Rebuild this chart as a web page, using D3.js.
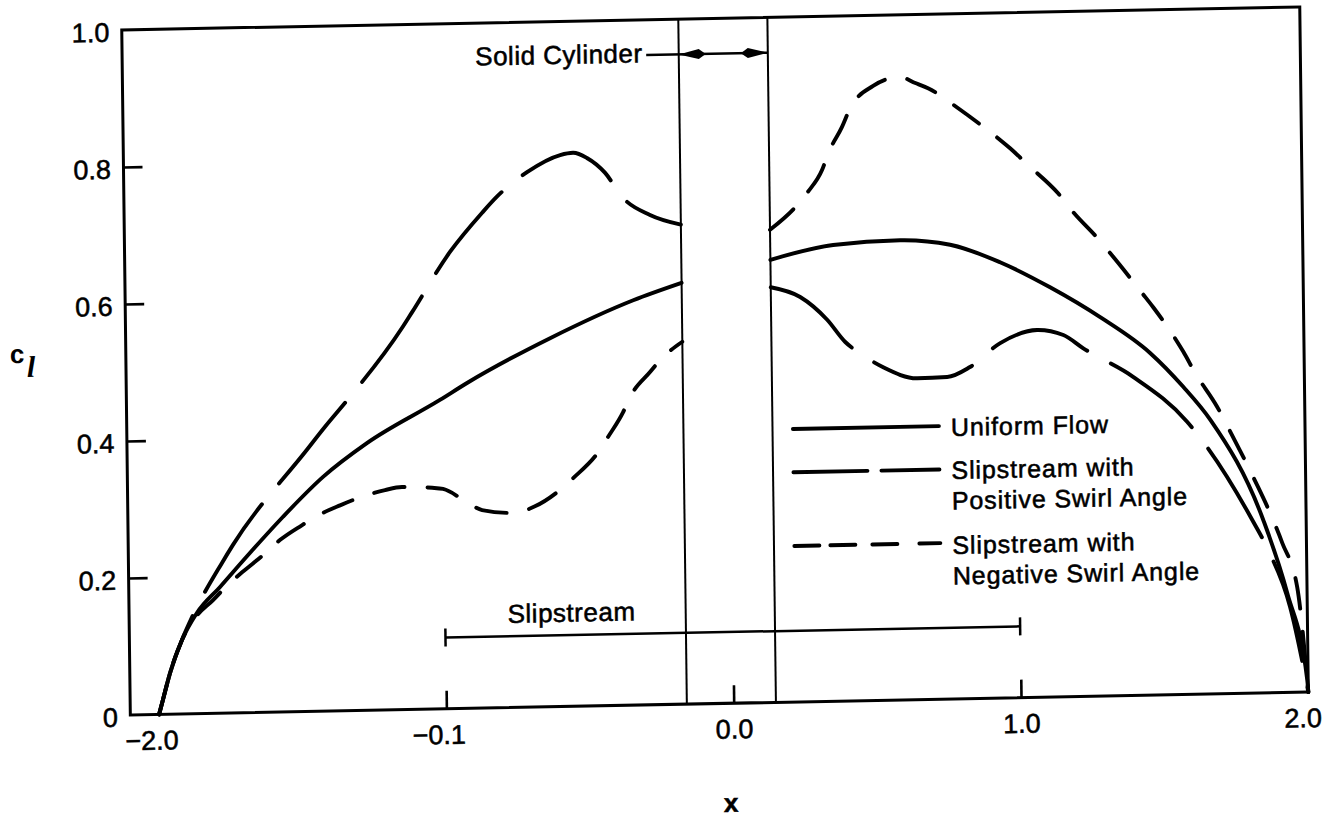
<!DOCTYPE html>
<html>
<head>
<meta charset="utf-8">
<script src="https://cdn.jsdelivr.net/npm/d3@7"></script>
<style>
  html, body { margin: 0; padding: 0; background: #fff; }
  svg { display: block; }
</style>
</head>
<body>
<svg id="chart" width="1325" height="817"></svg>
<script>
// Spanwise station x and sectional lift coefficient c_l for each case.
// A null value marks the gap where the solid cylinder sits.
const uniformX = [-2.0, -1.986, -1.96, -1.917, -1.864, -1.783, -1.677, -1.56, -1.419, -1.265, -1.009, -0.914, -0.623, -0.332, -0.163,
                  0,
                  0.147, 0.366, 0.599, 0.773, 0.946, 1.119, 1.292, 1.465, 1.578, 1.671, 1.851, 1.931, 1.997, 2.0];
const uniformY = [0, 0.021, 0.060, 0.108, 0.147, 0.184, 0.233, 0.285, 0.342, 0.390, 0.451, 0.475, 0.538, 0.591, 0.615,
                  null,
                  0.646, 0.666, 0.671, 0.663, 0.636, 0.598, 0.553, 0.499, 0.449, 0.400, 0.252, 0.145, 0.017, 0];

const positiveX = [-2.0, -1.986, -1.96, -1.917, -1.881, -1.775, -1.736, -1.474, -1.41, -1.332, -1.138, -1.102, -0.967, -0.854, -0.802,
                   -0.696, -0.58, -0.535, -0.487, -0.425, -0.366, -0.27, -0.163,
                   0,
                   0.147, 0.249, 0.342, 0.404, 0.455, 0.535, 0.653, 0.757, 0.837, 0.943, 1.072, 1.163, 1.232, 1.404, 1.59,
                   1.659, 1.812, 1.867, 1.94, 2.0];
const positiveY = [0, 0.021, 0.060, 0.108, 0.141, 0.219, 0.245, 0.382, 0.415, 0.453, 0.557, 0.580, 0.667, 0.723, 0.746,
                   0.781, 0.805, 0.808, 0.800, 0.778, 0.742, 0.715, 0.700,
                   null,
                   0.606, 0.591, 0.557, 0.524, 0.507, 0.486, 0.469, 0.470, 0.484, 0.518, 0.536, 0.528, 0.508, 0.465, 0.398,
                   0.360, 0.253, 0.208, 0.125, 0];

const negativeX = [-2.0, -1.986, -1.96, -1.917, -1.87, -1.808, -1.748, -1.705, -1.624, -1.572, -1.495, -1.438, -1.361, -1.298, -1.204,
                   -1.145, -1.04, -1.002, -0.916, -0.867, -0.759, -0.683, -0.584, -0.549, -0.461, -0.426, -0.372, -0.347, -0.276,
                   -0.241, -0.163,
                   0,
                   0.147, 0.242, 0.278, 0.331, 0.353, 0.402, 0.431, 0.512, 0.565, 0.606, 0.659, 0.703, 0.807, 0.873, 0.986,
                   1.048, 1.151, 1.203, 1.285, 1.33, 1.439, 1.477, 1.58, 1.62, 1.695, 1.74, 1.801, 1.828, 1.885, 1.916, 1.966, 2.0];
const negativeY = [0, 0.021, 0.060, 0.108, 0.140, 0.165, 0.190, 0.205, 0.232, 0.251, 0.272, 0.286, 0.300, 0.310, 0.321,
                   0.325, 0.323, 0.321, 0.300, 0.289, 0.284, 0.293, 0.320, 0.333, 0.370, 0.392, 0.428, 0.450, 0.486,
                   0.503, 0.529,
                   null,
                   0.690, 0.725, 0.743, 0.776, 0.800, 0.838, 0.865, 0.897, 0.907, 0.909, 0.900, 0.892, 0.862, 0.841, 0.802,
                   0.777, 0.735, 0.707, 0.669, 0.646, 0.587, 0.566, 0.500, 0.469, 0.419, 0.382, 0.330, 0.306, 0.252, 0.218, 0.153, 0];

const seriesNames = ["Uniform Flow", "Slipstream with|Positive Swirl Angle", "Slipstream with|Negative Swirl Angle"];

// Axis extents and tick labels (printed as on the original figure)
const xDomain = [-2.1, 2.0];
const yDomain = [0, 1.0];
const xTickValues = [-2, -1, 0, 1, 2];
const xTickLabels = ["\u22122.0", "\u22120.1", "0.0", "1.0", "2.0"];
const yTickValues = [0, 0.2, 0.4, 0.6, 0.8, 1.0];
const yTickLabels = ["0", "0.2", "0.4", "0.6", "0.8", "1.0"];

// Solid cylinder edges and slipstream extent
const cylinderEdges = [-0.163, 0.147];
const slipstreamSpan = [-1.0, 1.0];
const slipstreamLevel = 0.104;

// ---------------------------------------------------------------------------
const FONT = '"Liberation Sans", Arial, Helvetica, sans-serif';
const INK = 0.55; // outline added to glyphs for a heavier print look
const frame = { left: 124, right: 1302, top: 21, bottom: 706 };

const svg = d3.select("#chart");
svg.append("rect").attr("width", 1325).attr("height", 817).attr("fill", "#fff");

// whole figure sits slightly askew on the page
const g = svg.append("g").attr("transform", "matrix(1,-0.0195,0.0125,1,-2.5,11.4)");

const x = d3.scaleLinear().domain(xDomain).range([frame.left, frame.right]);
const y = d3.scaleLinear().domain(yDomain).range([frame.bottom, frame.top]);

// plot frame
g.append("rect")
  .attr("x", frame.left).attr("y", frame.top)
  .attr("width", frame.right - frame.left).attr("height", frame.bottom - frame.top)
  .attr("fill", "none").attr("stroke", "#000").attr("stroke-width", 3);

// y axis: inward ticks, labels outside
const yAxis = d3.axisLeft(y)
  .tickValues(yTickValues)
  .tickFormat((d, i) => yTickLabels[i])
  .tickSizeInner(-19).tickSizeOuter(0).tickPadding(12.5);
const ya = g.append("g").attr("transform", `translate(${frame.left},0)`).call(yAxis);
ya.attr("font-family", FONT).attr("font-size", 27);
ya.select(".domain").remove();
ya.selectAll(".tick").filter(d => d === 0 || d === 1).select("line").remove();
ya.selectAll(".tick line").attr("stroke", "#000").attr("stroke-width", 2.6);
ya.selectAll(".tick text").attr("fill", "#000").attr("dy", "0.41em")
  .attr("stroke", "#000").attr("stroke-width", INK);

// x axis: inward ticks at interior stations
const xAxis = d3.axisBottom(x)
  .tickValues(xTickValues)
  .tickFormat((d, i) => xTickLabels[i])
  .tickSizeInner(-18).tickSizeOuter(0).tickPadding(16);
const xa = g.append("g").attr("transform", `translate(0,${frame.bottom})`).call(xAxis);
xa.attr("font-family", FONT).attr("font-size", 27);
xa.select(".domain").remove();
xa.selectAll(".tick").filter(d => d === -2 || d === 2).select("line").remove();
xa.selectAll(".tick line").attr("stroke", "#000").attr("stroke-width", 2.6);
xa.selectAll(".tick text").attr("fill", "#000").attr("stroke", "#000").attr("stroke-width", INK);
// centre the numeric part of negative labels on the tick, minus sign hangs left;
// the last label is kept inside the right edge of the page
xa.selectAll(".tick text").each(function (d, i) {
  const s = xTickLabels[i];
  const t = d3.select(this);
  if (s.startsWith("\u2212")) {
    const tmp = xa.append("text").attr("font-size", 27).text(s.slice(1));
    const w = tmp.node().getComputedTextLength();
    tmp.remove();
    t.attr("text-anchor", "end").attr("x", w / 2);
  } else if (i === xTickLabels.length - 1) {
    t.attr("x", -6);
  }
});

// cylinder boundaries
g.selectAll(".cyl").data(cylinderEdges).join("line")
  .attr("class", "cyl")
  .attr("x1", d => x(d)).attr("x2", d => x(d))
  .attr("y1", y(1)).attr("y2", y(0))
  .attr("stroke", "#000").attr("stroke-width", 2);

// curves
const line = d3.line()
  .defined(d => d.v !== null)
  .x(d => x(d.x)).y(d => y(d.v))
  .curve(d3.curveMonotoneX);

const series = [
  { xs: uniformX, ys: uniformY, dash: null },
  { xs: positiveX, ys: positiveY, dash: "104,27" },
  { xs: negativeX, ys: negativeY, dash: "31,23" }
];
series.forEach(s => {
  const pts = s.xs.map((xv, i) => ({ x: xv, v: s.ys[i] }));
  g.append("path")
    .attr("d", line(pts))
    .attr("fill", "none").attr("stroke", "#000").attr("stroke-width", 3.9)
    .attr("stroke-linecap", "round").attr("stroke-linejoin", "round")
    .attr("stroke-dasharray", s.dash);
});

// text helper
function label(parent, px, py, str, opts = {}) {
  return parent.append("text")
    .attr("x", px).attr("y", py)
    .attr("font-family", FONT).attr("font-size", opts.size || 26)
    .attr("font-weight", opts.weight || "normal")
    .attr("letter-spacing", opts.spacing === undefined ? 0.5 : opts.spacing)
    .attr("text-anchor", opts.anchor || "start")
    .attr("fill", "#000").attr("stroke", "#000").attr("stroke-width", INK)
    .text(str);
}

// "Solid Cylinder" dimension arrow between the cylinder edges
const arrowY = 56.3;
label(g, 644.4, 63.5, "Solid Cylinder", { anchor: "end" });
g.append("line")
  .attr("x1", 648).attr("x2", x(cylinderEdges[1]))
  .attr("y1", arrowY).attr("y2", arrowY)
  .attr("stroke", "#000").attr("stroke-width", 2.4);
const head = (tipX, dir) => {
  const p = [[0, 0], [20, -5], [27, 0], [20, 5]]
    .map(([a, b]) => [tipX + dir * a, arrowY + b]);
  return "M" + p.map(q => q.join(",")).join("L") + "Z";
};
g.append("path").attr("d", head(x(cylinderEdges[0]), 1)).attr("fill", "#000");
g.append("path").attr("d", head(x(cylinderEdges[1]), -1)).attr("fill", "#000");

// slipstream extent bracket
const sy = y(slipstreamLevel);
g.append("line")
  .attr("x1", x(slipstreamSpan[0])).attr("x2", x(slipstreamSpan[1]))
  .attr("y1", sy).attr("y2", sy)
  .attr("stroke", "#000").attr("stroke-width", 2.5);
g.selectAll(".cap").data(slipstreamSpan).join("line")
  .attr("class", "cap")
  .attr("x1", d => x(d)).attr("x2", d => x(d))
  .attr("y1", sy - 9).attr("y2", sy + 9)
  .attr("stroke", "#000").attr("stroke-width", 2.5);
label(g, 566.4, 621.3, "Slipstream", { anchor: "middle" });

// legend
const legendRows = [
  { lineY: 433, dash: null, textY: [443] },
  { lineY: 476.3, dash: "74,14", textY: [486, 516.5] },
  { lineY: 550, dash: "25,11,25,17,25,22,25", textY: [561, 591.5] }
];
legendRows.forEach((r, i) => {
  g.append("line")
    .attr("x1", 790).attr("x2", 936)
    .attr("y1", r.lineY).attr("y2", r.lineY)
    .attr("stroke", "#000").attr("stroke-width", 3.9)
    .attr("stroke-linecap", "round")
    .attr("stroke-dasharray", r.dash);
  seriesNames[i].split("|").forEach((part, j) => {
    label(g, 948, r.textY[j], part, { size: 25, spacing: 0.9 });
  });
});

// axis titles
const cl = g.append("text")
  .attr("x", 8).attr("y", 352)
  .attr("font-family", FONT).attr("font-size", 26).attr("font-weight", "bold")
  .attr("fill", "#000");
cl.append("tspan").text("c");
cl.append("tspan")
  .attr("x", 25).attr("y", 366)
  .attr("font-family", '"Liberation Serif", "Times New Roman", serif')
  .attr("font-style", "italic").attr("font-size", 30)
  .text("l");

label(g, 723.5, 814.7, "x", { anchor: "middle", weight: "bold", spacing: 0 });
</script>
</body>
</html>
